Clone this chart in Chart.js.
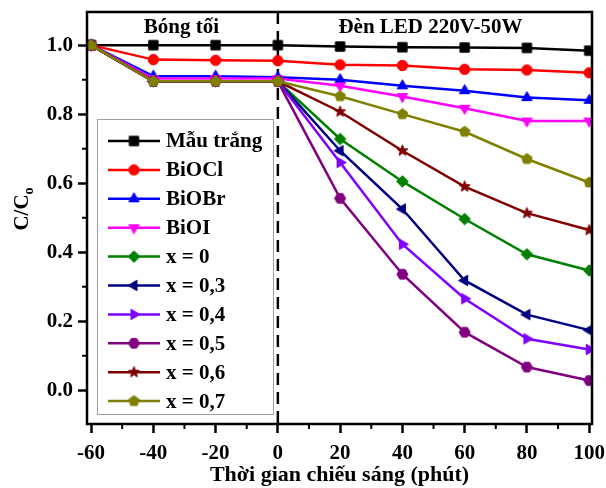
<!DOCTYPE html>
<html>
<head>
<meta charset="utf-8">
<script src="https://cdn.jsdelivr.net/npm/chart.js@4.4.0/dist/chart.umd.min.js"></script>
<style>
html, body { margin: 0; padding: 0; background: #fff; }
#wrap { width: 606px; height: 488px; }
</style>
</head>
<body>
<div id="wrap"><canvas id="c" width="606" height="488"></canvas></div>
<script>
// thoi gian (phut), am = trong bong toi
const time = [-60, -40, -20, 0, 20, 40, 60, 80, 100];

const mauTrang = [1.0, 1.0, 1.0, 1.0, 0.996, 0.994, 0.993, 0.992, 0.984];
const biocl    = [1.0, 0.958, 0.956, 0.955, 0.943, 0.941, 0.930, 0.928, 0.920];
const biobr    = [1.0, 0.910, 0.910, 0.907, 0.900, 0.882, 0.868, 0.848, 0.840];
const bioi     = [1.0, 0.903, 0.903, 0.903, 0.882, 0.851, 0.817, 0.780, 0.780];
const x00      = [1.0, 0.895, 0.895, 0.895, 0.728, 0.605, 0.496, 0.394, 0.347];
const x03      = [1.0, 0.895, 0.895, 0.895, 0.694, 0.525, 0.318, 0.219, 0.174];
const x04      = [1.0, 0.895, 0.895, 0.895, 0.660, 0.423, 0.265, 0.149, 0.118];
const x05      = [1.0, 0.895, 0.895, 0.895, 0.556, 0.336, 0.168, 0.067, 0.028];
const x06      = [1.0, 0.895, 0.895, 0.895, 0.807, 0.694, 0.590, 0.513, 0.464];
const x07      = [1.0, 0.895, 0.895, 0.895, 0.852, 0.800, 0.749, 0.670, 0.602];

const seriesNames = ['Mẫu trắng', 'BiOCl', 'BiOBr', 'BiOI', 'x = 0', 'x = 0,3', 'x = 0,4', 'x = 0,5', 'x = 0,6', 'x = 0,7'];
const seriesData = [mauTrang, biocl, biobr, bioi, x00, x03, x04, x05, x06, x07];
const colors = ['#000000', '#ff0000', '#0000ff', '#ff00ff', '#008000', '#000080', '#8000ff', '#800080', '#800000', '#808000'];
const shapes = ['square', 'circle', 'up', 'down', 'diamond', 'left', 'right', 'hex', 'star', 'pent'];

const xTicks = [-60, -40, -20, 0, 20, 40, 60, 80, 100];
const xMinor = [-50, -30, -10, 10, 30, 50, 70, 90];
const yTicks = [0, 0.2, 0.4, 0.6, 0.8, 1.0];
const yMinor = [0.1, 0.3, 0.5, 0.7, 0.9];

const phaseDark = 'Bóng tối';
const phaseLight = 'Đèn LED 220V-50W';
const xTitle = 'Thời gian chiếu sáng (phút)';

const FONT = "'Liberation Serif', 'Times New Roman', serif";

function marker(shape, color, size) {
  const s = size + 4;
  const c = document.createElement('canvas');
  c.width = s; c.height = s;
  const g = c.getContext('2d');
  g.fillStyle = color;
  g.strokeStyle = color;
  g.lineWidth = 1;
  const cx = s / 2, cy = s / 2, r = size / 2;
  const poly = (n, rot, rr) => {
    for (let i = 0; i < n; i++) {
      const a = rot + i * 2 * Math.PI / n;
      g.lineTo(cx + rr * Math.cos(a), cy + rr * Math.sin(a));
    }
  };
  g.beginPath();
  switch (shape) {
    case 'square': g.rect(cx - r * 0.85, cy - r * 0.85, r * 1.7, r * 1.7); break;
    case 'circle': g.arc(cx, cy, r * 0.95, 0, Math.PI * 2); break;
    case 'up': poly(3, -Math.PI / 2, r * 1.1); break;
    case 'down': poly(3, Math.PI / 2, r * 1.1); break;
    case 'left': poly(3, Math.PI, r * 1.1); break;
    case 'right': poly(3, 0, r * 1.1); break;
    case 'diamond': poly(4, -Math.PI / 2, r * 1.05); break;
    case 'hex': poly(6, 0, r); break;
    case 'pent': poly(5, -Math.PI / 2, r); break;
    case 'star':
      for (let i = 0; i < 10; i++) {
        const a = -Math.PI / 2 + i * Math.PI / 5;
        const rr = i % 2 ? r * 0.45 : r * 1.05;
        g.lineTo(cx + rr * Math.cos(a), cy + rr * Math.sin(a));
      }
      break;
  }
  g.closePath();
  g.fill();
  g.stroke();
  return c;
}

const markers = shapes.map((s, i) => marker(s, colors[i], 11));

const datasets = seriesData.map((vals, i) => ({
  label: seriesNames[i],
  data: time.map((t, j) => ({ x: t, y: vals[j] })),
  borderColor: colors[i],
  backgroundColor: colors[i],
  borderWidth: 2.5,
  pointStyle: markers[i],
  pointRadius: 6,
  tension: 0,
  order: seriesData.length - i
}));

const decor = {
  id: 'decor',
  beforeDatasetsDraw(chart) {
    const { ctx, chartArea: a, scales: { x } } = chart;
    const px = x.getPixelForValue(0);
    ctx.save();
    ctx.strokeStyle = '#000';
    ctx.lineWidth = 2.5;
    ctx.setLineDash([12, 7]);
    ctx.beginPath();
    ctx.moveTo(px, a.top);
    ctx.lineTo(px, a.bottom);
    ctx.stroke();
    ctx.restore();
  },
  afterDatasetsDraw(chart) {
    const { ctx, chartArea: a, scales: { x, y } } = chart;
    ctx.save();
    // khung
    ctx.strokeStyle = '#000';
    ctx.lineWidth = 2.5;
    ctx.strokeRect(a.left, a.top, a.right - a.left, a.bottom - a.top);
    // vach phu
    ctx.lineWidth = 2;
    ctx.beginPath();
    xMinor.forEach(v => {
      const px = x.getPixelForValue(v);
      ctx.moveTo(px, a.bottom);
      ctx.lineTo(px, a.bottom + 5);
    });
    yMinor.forEach(v => {
      const py = y.getPixelForValue(v);
      ctx.moveTo(a.left, py);
      ctx.lineTo(a.left - 5, py);
    });
    ctx.stroke();

    // nhan pha
    ctx.fillStyle = '#000';
    ctx.font = 'bold 21px ' + FONT;
    ctx.textAlign = 'center';
    ctx.textBaseline = 'middle';
    ctx.fillText(phaseDark, x.getPixelForValue(-31), 28);
    ctx.fillText(phaseLight, x.getPixelForValue(49), 28);

    // chu giai
    ctx.fillStyle = '#fff';
    ctx.fillRect(97, 119, 176, 295);
    ctx.strokeStyle = '#a0a0a0';
    ctx.lineWidth = 1;
    ctx.strokeRect(97.5, 119.5, 176, 295);
    ctx.font = 'bold 21px ' + FONT;
    ctx.textAlign = 'left';
    seriesNames.forEach((name, i) => {
      const ly = 141 + i * 28.9;
      ctx.strokeStyle = colors[i];
      ctx.lineWidth = 2.5;
      ctx.beginPath();
      ctx.moveTo(108, ly);
      ctx.lineTo(160, ly);
      ctx.stroke();
      const m = markers[i];
      ctx.drawImage(m, 134 - m.width / 2, ly - m.height / 2);
      ctx.fillStyle = '#000';
      ctx.fillText(name, 166, ly + 1);
    });

    // tieu de truc
    ctx.fillStyle = '#000';
    ctx.textAlign = 'center';
    ctx.textBaseline = 'alphabetic';
    ctx.font = 'bold 22px ' + FONT;
    ctx.fillText(xTitle, (a.left + a.right) / 2, 481);

    ctx.translate(21, 209);
    ctx.rotate(-Math.PI / 2);
    ctx.textAlign = 'left';
    const main = 'C/C';
    ctx.font = 'bold 21px ' + FONT;
    const w = ctx.measureText(main).width;
    ctx.font = 'bold 14px ' + FONT;
    const ws = ctx.measureText('o').width;
    const start = -(w + ws) / 2;
    ctx.font = 'bold 21px ' + FONT;
    ctx.fillText(main, start, 7);
    ctx.font = 'bold 14px ' + FONT;
    ctx.fillText('o', start + w, 12);
    ctx.restore();
  }
};

new Chart(document.getElementById('c'), {
  type: 'line',
  data: { datasets: datasets },
  options: {
    responsive: false,
    animation: false,
    devicePixelRatio: 1,
    layout: { padding: { top: 12, right: 14, left: 0, bottom: 0 } },
    plugins: { legend: { display: false }, tooltip: { enabled: false } },
    scales: {
      x: {
        type: 'linear',
        min: -61.3,
        max: 100.9,
        afterBuildTicks: s => { s.ticks = xTicks.map(v => ({ value: v })); },
        afterFit: s => { s.height = 64; s.paddingLeft = 0; s.paddingRight = 0; },
        border: { display: false },
        grid: { drawOnChartArea: false, drawTicks: true, tickLength: 9, tickWidth: 2.5, tickColor: '#000' },
        ticks: {
          color: '#000',
          padding: 8,
          maxRotation: 0,
          font: { family: FONT, size: 21, weight: 'bold' },
          callback: v => String(v)
        }
      },
      y: {
        min: -0.098,
        max: 1.096,
        afterBuildTicks: s => { s.ticks = yTicks.map(v => ({ value: v })); },
        afterFit: s => { s.width = 87; s.paddingTop = 0; s.paddingBottom = 0; },
        border: { display: false },
        grid: { drawOnChartArea: false, drawTicks: true, tickLength: 9, tickWidth: 2.5, tickColor: '#000' },
        ticks: {
          color: '#000',
          padding: 5,
          font: { family: FONT, size: 21, weight: 'bold' },
          callback: v => Number(v).toFixed(1)
        }
      }
    }
  },
  plugins: [decor]
});
</script>
</body>
</html>
